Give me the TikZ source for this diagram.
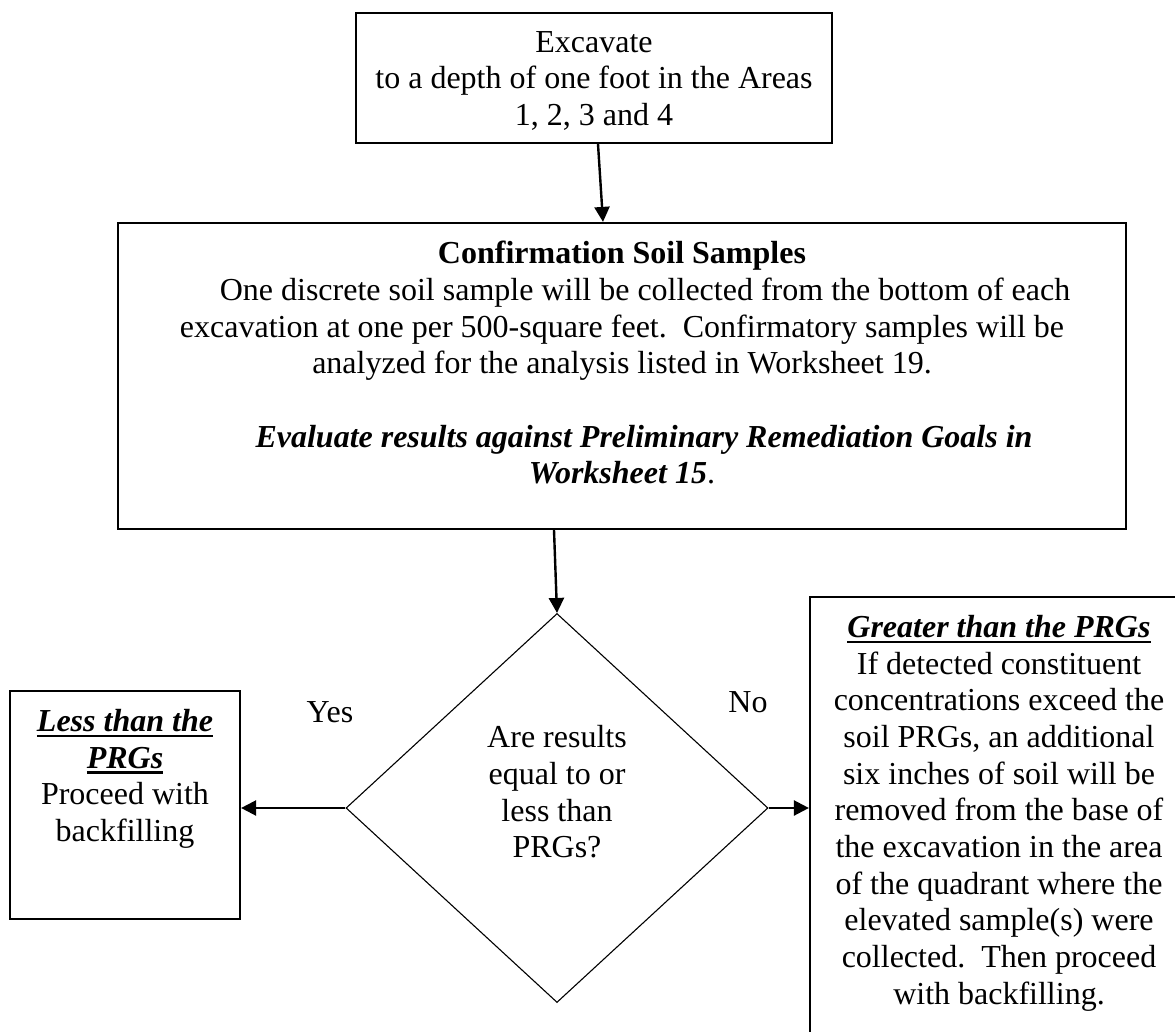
\documentclass[tikz,border=0pt]{standalone}
\usepackage{fontspec}
\setmainfont{Liberation Serif}
\usetikzlibrary{positioning,shapes.geometric,arrows.meta}
\newsavebox{\prgbox}
\newcommand{\prghead}[1]{\sbox{\prgbox}{\textbf{\textit{#1}}}%
  \rlap{\rule[-6pt]{\wd\prgbox}{2.6pt}}\usebox{\prgbox}}

\begin{document}
\begin{tikzpicture}[x=1pt,y=-1pt,
  every node/.style={font=\fontsize{32}{36.7}\selectfont},
  box/.style={draw,line width=2.2pt,rectangle,inner sep=0pt},
  txt/.style={align=center,inner sep=0pt},
  decision/.style={draw,line width=1.1pt,diamond,inner sep=0pt},
  arr/.style={line width=2.4pt,-{Triangle[length=15pt,width=15pt]}}]
\def\pad{19pt}
\useasboundingbox (0,0) rectangle (1175,1032);
\clip (0,0) rectangle (1175,1032);
% the boxes and the question
\node [box,minimum width=476pt,minimum height=130pt] (dig) at (594,78) {};
\node [box,minimum width=1008pt,minimum height=306pt] (conf) at (622,376) {};
\node [decision,minimum width=422pt,minimum height=389pt] (ask) at (557,808) {};
\node [box,minimum width=230pt,minimum height=228pt] (less) at (125,805) {};
\node [box,minimum width=378pt,minimum height=450pt] (more) at (999,822) {};
% texts, set from the top of each box
\node [txt,below=\pad of dig.north] (digtxt) {Excavate\\to a depth of one foot in the Areas\\1, 2, 3 and 4};
\node [txt,below=\pad of conf.north] (conftxt) {\textbf{Confirmation Soil Samples}\\
  \hspace*{46pt}One discrete soil sample will be collected from the bottom of each\\
  excavation at one per 500-square feet.\ \ Confirmatory samples will be\\
  analyzed for the analysis listed in Worksheet 19.\\[36.7pt]
  \hspace*{44pt}\textbf{\textit{Evaluate results against Preliminary Remediation Goals in}}\\
  \textbf{\textit{Worksheet 15}}.};
\node [txt] (asktxt) at ([yshift=16pt]ask.center) {Are results\\equal to or\\less than\\PRGs?};
\node [txt,below=\pad of less.north] (lesstxt) {\prghead{Less than the}\\\prghead{PRGs}\\Proceed with\\backfilling};
\node [txt,below=\pad of more.north] (moretxt) {\prghead{Greater than the PRGs}\\If detected constituent\\
  concentrations exceed the\\soil PRGs, an additional\\six inches of soil will be\\
  removed from the base of\\the excavation in the area\\of the quadrant where the\\
  elevated sample(s) were\\collected.\ \ Then proceed\\with backfilling.};
\node (yes) at (330,712) {Yes};
\node (no) at (748,702) {No};
% arrows
\draw[arr] ([xshift=4pt]dig.south) -- ([xshift=-19pt]conf.north);
\draw[arr] ([xshift=-68pt]conf.south) -- (ask.north);
\draw[arr] (ask.west) -- (ask.west -| less.east);
\draw[arr] (ask.east) -- (ask.east -| more.west);
\end{tikzpicture}
\end{document}
